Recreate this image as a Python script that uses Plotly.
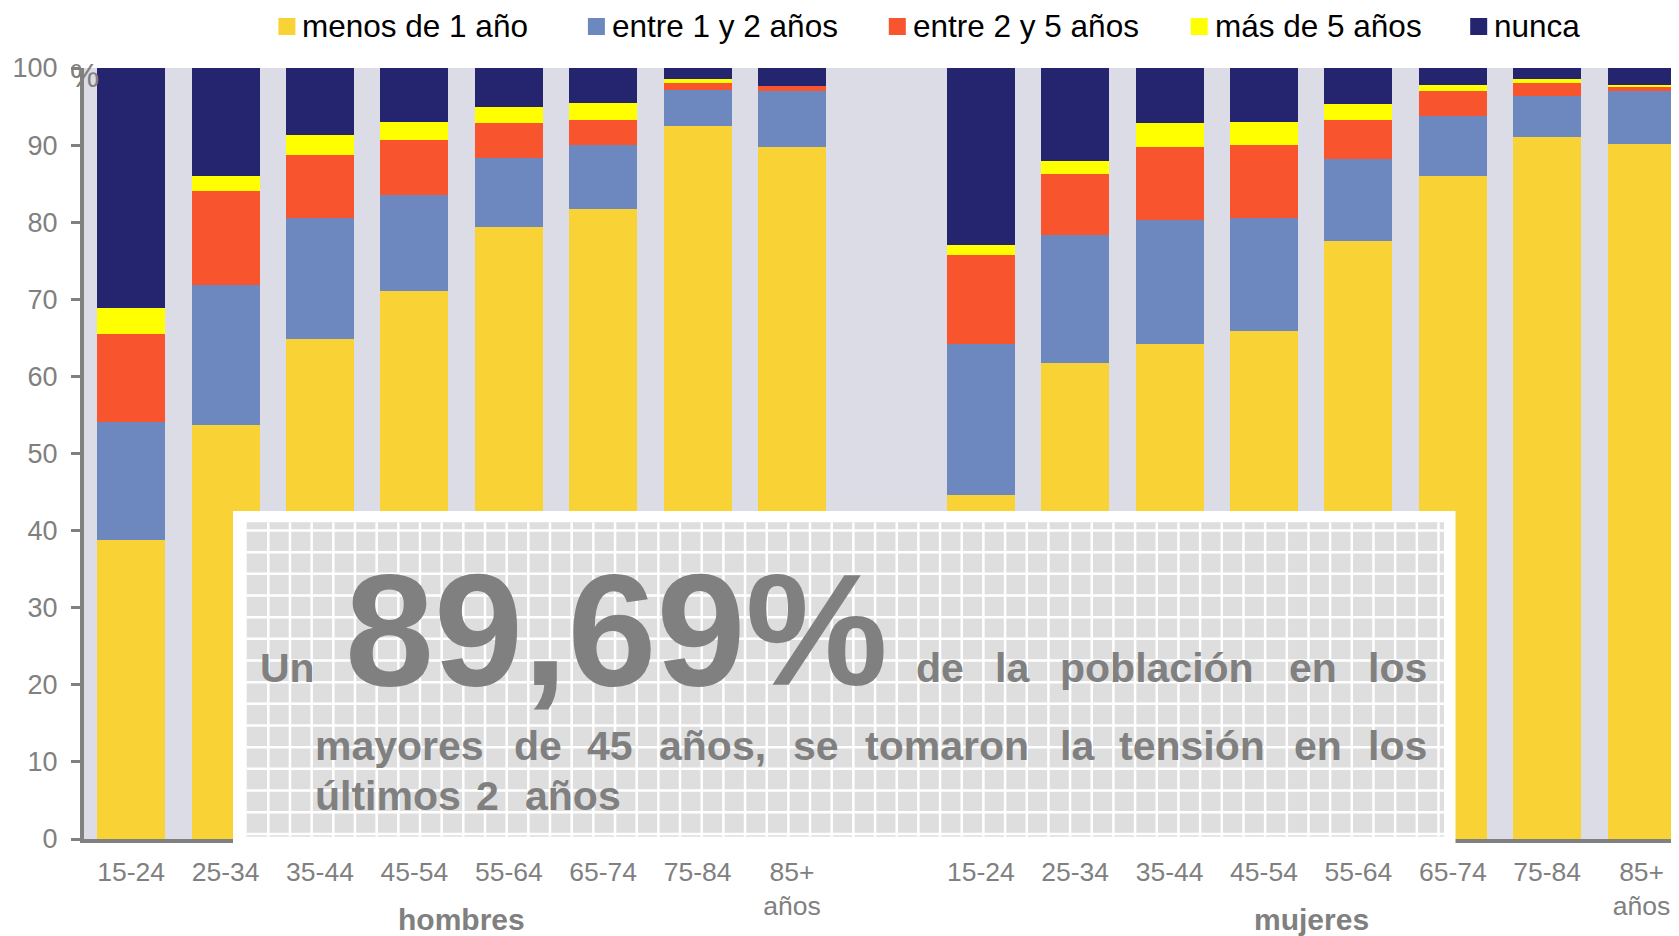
import plotly.graph_objects as go

# ---------------- data ----------------
grupos = ["hombres", "mujeres"]
edades = ["15-24", "25-34", "35-44", "45-54", "55-64", "65-74", "75-84", "85+<br>años"]
series = ["menos de 1 año", "entre 1 y 2 años", "entre 2 y 5 años", "más de 5 años", "nunca"]
colores = ["#F9D335", "#6D88BE", "#F8542D", "#FFFF00", "#25246E"]

hombres_menos1 = [38.8, 53.7, 64.9, 71.1, 79.4, 81.7, 92.5, 89.7]
hombres_1a2 = [15.3, 18.1, 15.6, 12.4, 8.9, 8.3, 4.7, 7.3]
hombres_2a5 = [11.4, 12.2, 8.2, 7.2, 4.6, 3.3, 0.9, 0.7]
hombres_mas5 = [3.4, 2.0, 2.6, 2.3, 2.1, 2.1, 0.5, 0.0]
hombres_nunca = [31.1, 14.0, 8.7, 7.0, 5.0, 4.6, 1.4, 2.3]

mujeres_menos1 = [44.6, 61.7, 64.2, 65.9, 77.5, 86.0, 91.1, 90.1]
mujeres_1a2 = [19.6, 16.6, 16.1, 14.6, 10.7, 7.8, 5.3, 6.9]
mujeres_2a5 = [11.5, 7.9, 9.4, 9.5, 5.1, 3.2, 1.7, 0.5]
mujeres_mas5 = [1.3, 1.8, 3.2, 3.0, 2.0, 0.8, 0.5, 0.3]
mujeres_nunca = [23.0, 12.0, 7.1, 7.0, 4.7, 2.2, 1.4, 2.2]

valores_h = [hombres_menos1, hombres_1a2, hombres_2a5, hombres_mas5, hombres_nunca]
valores_m = [mujeres_menos1, mujeres_1a2, mujeres_2a5, mujeres_mas5, mujeres_nunca]

y_ticks = list(range(0, 101, 10))

# ---------------- layout constants ----------------
OFF = 8  # page body margin
W, H = 1679 - OFF, 936 - OFF
L, R, T, B = 84 - OFF, 0, 68 - OFF, 97
PW, PH = W - L - R, H - T - B
GRAY = "#808080"
FONT = "Liberation Sans, Arial, sans-serif"


def px(x):
    """page pixel x -> paper"""
    return (x - OFF - L) / PW


def py(y):
    """page pixel y -> paper"""
    return (H - B - (y - OFF)) / PH


n = len(edades)
pos_h = [i for i in range(n)]
pos_m = [i + n + 1 for i in range(n)]
posiciones = pos_h + pos_m

fig = go.Figure()
for k, nombre in enumerate(series):
    fig.add_trace(go.Bar(
        x=posiciones,
        y=valores_h[k] + valores_m[k],
        name=nombre,
        marker=dict(color=colores[k], line=dict(width=0)),
        width=0.72,
        showlegend=False,
    ))

shapes = []
annotations = []

# custom legend
leg_sq_x = [278.4, 587.9, 888.8, 1190.7, 1470.2]
for k, nombre in enumerate(series):
    x0 = leg_sq_x[k]
    shapes.append(dict(type="rect", xref="paper", yref="paper",
                       x0=px(x0), x1=px(x0 + 17), y0=py(35), y1=py(18),
                       fillcolor=colores[k], line=dict(width=0)))
    annotations.append(dict(text=nombre, xref="paper", yref="paper",
                            x=px(x0 + 22), y=py(26.5), xanchor="left", yanchor="middle",
                            showarrow=False, font=dict(family=FONT, size=31.5, color="#000000")))

# % sign next to 100
annotations.append(dict(text="%", xref="paper", yref="paper", x=px(84), y=py(76),
                        xanchor="center", yanchor="middle", showarrow=False,
                        font=dict(family=FONT, size=33, color=GRAY)))

# group labels
for g, nombre in enumerate(grupos):
    p = pos_h if g == 0 else pos_m
    annotations.append(dict(text="<b>%s</b>" % nombre, xref="x", yref="paper",
                            x=(p[0] + p[-1]) / 2, y=py(919), xanchor="center", yanchor="middle",
                            showarrow=False, font=dict(family=FONT, size=30, color=GRAY)))

# message box
shapes.append(dict(type="rect", xref="paper", yref="paper", layer="above",
                   x0=px(233), x1=px(1455.5), y0=py(844), y1=py(511),
                   fillcolor="#FFFFFF", line=dict(width=0)))
gx0, gx1, gy0, gy1 = 246.7, 1444, 522.3, 836.7
shapes.append(dict(type="rect", xref="paper", yref="paper", layer="above",
                   x0=px(gx0), x1=px(gx1), y0=py(gy1), y1=py(gy0),
                   fillcolor="#DEDEDE", line=dict(width=0)))
step = 21.67
path = ""
xx = 268.3
while xx < gx1:
    path += "M%.5f,%.5f L%.5f,%.5f " % (px(xx), py(gy0), px(xx), py(gy1))
    xx += step
yy = 530.5
while yy < gy1:
    path += "M%.5f,%.5f L%.5f,%.5f " % (px(gx0), py(yy), px(gx1), py(yy))
    yy += step
shapes.append(dict(type="path", xref="paper", yref="paper", layer="above",
                   path=path, line=dict(color="#FFFFFF", width=2.5)))

S = 41
words = [
    ("Un", 259, 682.5, S),
    ("89,69%", 344, 685, 160),
    ("de", 915, 682.5, S), ("la", 994, 682.5, S), ("población", 1059, 682.5, S),
    ("en", 1288, 682.5, S), ("los", 1367, 682.5, S),
    ("mayores", 314, 760, S), ("de", 513, 760, S), ("45", 586, 760, S),
    ("años,", 658, 760, S), ("se", 792, 760, S), ("tomaron", 864, 760, S),
    ("la", 1059, 760, S), ("tensión", 1118, 760, S), ("en", 1293, 760, S), ("los", 1367, 760, S),
    ("últimos", 314, 810, S), ("2", 475, 810, S), ("años", 524, 810, S),
]
for txt, x, base, size in words:
    annotations.append(dict(text="<b>%s</b>" % txt, xref="paper", yref="paper",
                            x=px(x), y=py(base - 0.3465 * size), xanchor="left", yanchor="middle",
                            showarrow=False, borderpad=0,
                            font=dict(family=FONT, size=size, color=GRAY)))

fig.update_layout(
    width=W, height=H,
    margin=dict(l=L, r=R, t=T, b=B, pad=0),
    barmode="stack",
    paper_bgcolor="#FFFFFF",
    plot_bgcolor="#DCDCE6",
    font=dict(family=FONT, color=GRAY),
    shapes=shapes,
    annotations=annotations,
    xaxis=dict(range=[-0.5, PW / 94.4 - 0.5], tickvals=posiciones, ticktext=edades + edades,
               showline=True, linecolor=GRAY, linewidth=4, ticks="", showgrid=False,
               zeroline=False, tickfont=dict(family=FONT, size=26.5, color=GRAY),
               ticklabelstandoff=6, fixedrange=True),
    yaxis=dict(range=[0, 100], tickvals=y_ticks, showline=True, linecolor=GRAY, linewidth=4,
               ticks="outside", ticklen=9, tickwidth=3, tickcolor=GRAY, showgrid=False,
               zeroline=False, tickfont=dict(family=FONT, size=27, color=GRAY),
               ticklabelstandoff=8, fixedrange=True),
)

fig.write_html("out.html")
